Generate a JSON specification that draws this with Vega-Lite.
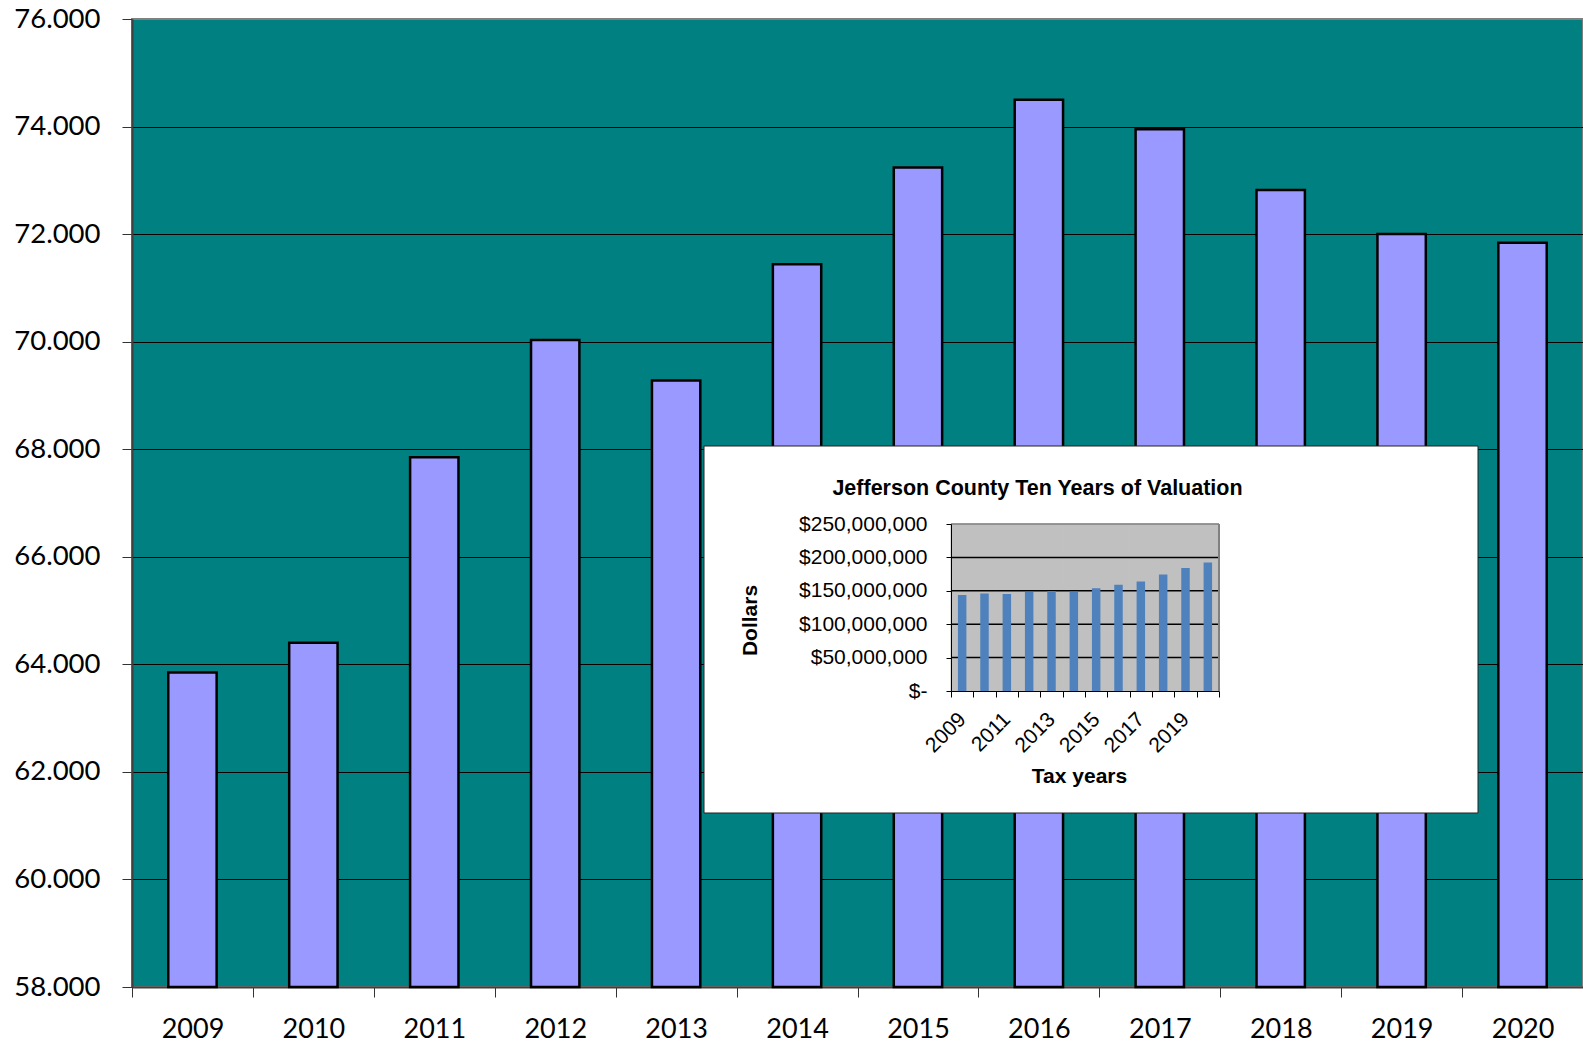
{
  "$schema": "https://vega.github.io/schema/vega-lite/v6.json",
  "width": 1451,
  "height": 968,
  "autosize": {"type": "none"},
  "padding": {"left": 132, "top": 19, "right": 0, "bottom": 60},
  "background": "white",
  "config": {"view": {"fill": "#008080", "stroke": "#808080", "strokeWidth": 2}},
  "resolve": {
    "scale": {"x": "independent", "y": "independent"},
    "axis": {"x": "independent", "y": "independent"}
  },
  "layer": [
    {
      "data": {"values": [
        {"year": "2009", "value": 63.85},
        {"year": "2010", "value": 64.40},
        {"year": "2011", "value": 67.85},
        {"year": "2012", "value": 70.03},
        {"year": "2013", "value": 69.28},
        {"year": "2014", "value": 71.44},
        {"year": "2015", "value": 73.24},
        {"year": "2016", "value": 74.50},
        {"year": "2017", "value": 73.95},
        {"year": "2018", "value": 72.82},
        {"year": "2019", "value": 72.00},
        {"year": "2020", "value": 71.84}
      ]},
      "mark": {"type": "bar", "width": {"band": 0.4}, "fill": "#9999FF", "stroke": "black", "strokeWidth": 2.5},
      "encoding": {
        "x": {
          "field": "year", "type": "nominal",
          "scale": {"paddingInner": 0, "paddingOuter": 0},
          "axis": {"title": null, "labelAngle": 0, "tickBand": "extent", "tickSize": 10, "tickColor": "#333333", "domainColor": "#404040", "domainWidth": 2, "labelFont": "Lato", "labelFontSize": 27, "labelColor": "black", "labelPadding": 19, "grid": false}
        },
        "y": {
          "field": "value", "type": "quantitative",
          "scale": {"domain": [58, 76], "nice": false, "zero": false},
          "axis": {"title": null, "values": [58, 60, 62, 64, 66, 68, 70, 72, 74, 76], "format": ".3f", "grid": true,
            "gridColor": {"condition": {"test": "datum.value == 76", "value": "#808080"}, "value": "black"},
            "gridWidth": 1, "gridOpacity": 1, "tickSize": 10, "tickColor": "#333333", "domainColor": "#404040", "domainWidth": 2, "labelFont": "Lato", "labelFontSize": 27.5, "labelColor": "black", "labelPadding": 22}
        },
        "y2": {"datum": 58}
      }
    },
    {
      "data": {"values": [{"panel": "inset"}]},
      "mark": {"type": "rect", "fill": "white", "stroke": "#222222", "strokeWidth": 1},
      "encoding": {
        "x": {
          "datum": 0, "type": "quantitative",
          "scale": {"domain": [0, 1], "range": [572, 1346]},
          "axis": {"orient": "top", "offset": 0, "title": "Jefferson County Ten Years of Valuation", "labels": false, "ticks": false, "domain": false, "grid": false,
            "titleX": 905, "titleY": 469, "titleAlign": "center", "titleBaseline": "middle", "titleAngle": 0,
            "titleFont": "Liberation Sans", "titleFontSize": 21.5, "titleFontWeight": "bold", "titleColor": "black", "zindex": 1}
        },
        "x2": {"datum": 1},
        "y": {"datum": 0, "type": "quantitative", "scale": {"domain": [0, 1], "range": [427, 794]}, "axis": null},
        "y2": {"datum": 1}
      }
    },
    {
      "data": {"values": [
        {"year": 2009, "val": 143800000},
        {"year": 2010, "val": 145800000},
        {"year": 2011, "val": 145300000},
        {"year": 2012, "val": 148200000},
        {"year": 2013, "val": 149700000},
        {"year": 2014, "val": 148700000},
        {"year": 2015, "val": 153700000},
        {"year": 2016, "val": 159100000},
        {"year": 2017, "val": 164000000},
        {"year": 2018, "val": 174400000},
        {"year": 2019, "val": 184300000},
        {"year": 2020, "val": 192200000}
      ]},
      "layer": [
        {
          "mark": {"type": "bar", "width": {"band": 1}, "fill": "#C0C0C0", "stroke": "#C0C0C0", "strokeWidth": 1},
          "encoding": {
            "x": {
              "field": "year", "type": "ordinal",
              "scale": {"range": [819, 1087], "paddingInner": 0, "paddingOuter": 0},
              "axis": {"orient": "bottom", "offset": -296, "tickBand": "extent", "tickSize": 6, "tickColor": "black", "domainColor": "black",
                "labelAngle": -45, "labelAlign": "right", "labelBaseline": "middle", "labelPadding": 19, "labelOverlap": false,
                "labelFont": "Liberation Sans", "labelFontSize": 21, "labelColor": "black",
                "labelExpr": "(+datum.value) % 2 == 1 ? datum.label : ''",
                "title": "Tax years", "titleFont": "Liberation Sans", "titleFontSize": 21, "titleFontWeight": "bold", "titleColor": "black",
                "titleX": 947, "titleY": 85, "titleAlign": "center", "titleBaseline": "middle", "titleAngle": 0, "grid": false, "zindex": 1}
            },
            "y": {
              "datum": 250000000, "type": "quantitative",
              "scale": {"domain": [0, 250000000], "nice": false, "zero": true, "range": [672, 505]},
              "axis": {"orient": "left", "offset": -819, "values": [0, 50000000, 100000000, 150000000, 200000000, 250000000],
                "labelExpr": "datum.value == 0 ? '$-\u00a0\u00a0\u00a0' : '$' + format(datum.value, ',')",
                "tickSize": 5, "tickColor": "black", "domainColor": "black", "labelPadding": 19, "labelOverlap": false,
                "labelFont": "Liberation Sans", "labelFontSize": 21, "labelColor": "black",
                "title": "Dollars", "titleFont": "Liberation Sans", "titleFontSize": 21, "titleFontWeight": "bold", "titleColor": "black",
                "titleX": -201, "titleY": 601, "titleAlign": "center", "titleBaseline": "middle", "titleAngle": -90, "grid": false, "zindex": 1}
            },
            "y2": {"datum": 0}
          }
        },
        {
          "data": {"values": [
            {"g": 50000000}, {"g": 100000000}, {"g": 150000000}, {"g": 200000000}, {"g": 250000000}
          ]},
          "mark": {"type": "rule", "strokeWidth": 1.5},
          "encoding": {
            "x": {"datum": 2009, "type": "ordinal", "bandPosition": 0},
            "x2": {"datum": 2020, "bandPosition": 1},
            "y": {"field": "g", "type": "quantitative"},
            "color": {"condition": {"test": "datum.g == 250000000", "value": "#808080"}, "value": "black"}
          }
        },
        {
          "data": {"values": [{"edge": "right"}]},
          "mark": {"type": "rule", "strokeWidth": 2, "color": "#808080"},
          "encoding": {
            "x": {"datum": 2020, "type": "ordinal", "bandPosition": 1},
            "y": {"datum": 0, "type": "quantitative"},
            "y2": {"datum": 250000000}
          }
        },
        {
          "mark": {"type": "bar", "width": {"band": 0.38}, "fill": "#4F81BD"},
          "encoding": {
            "x": {"field": "year", "type": "ordinal"},
            "y": {"field": "val", "type": "quantitative"},
            "y2": {"datum": 0}
          }
        }
      ]
    }
  ]
}
